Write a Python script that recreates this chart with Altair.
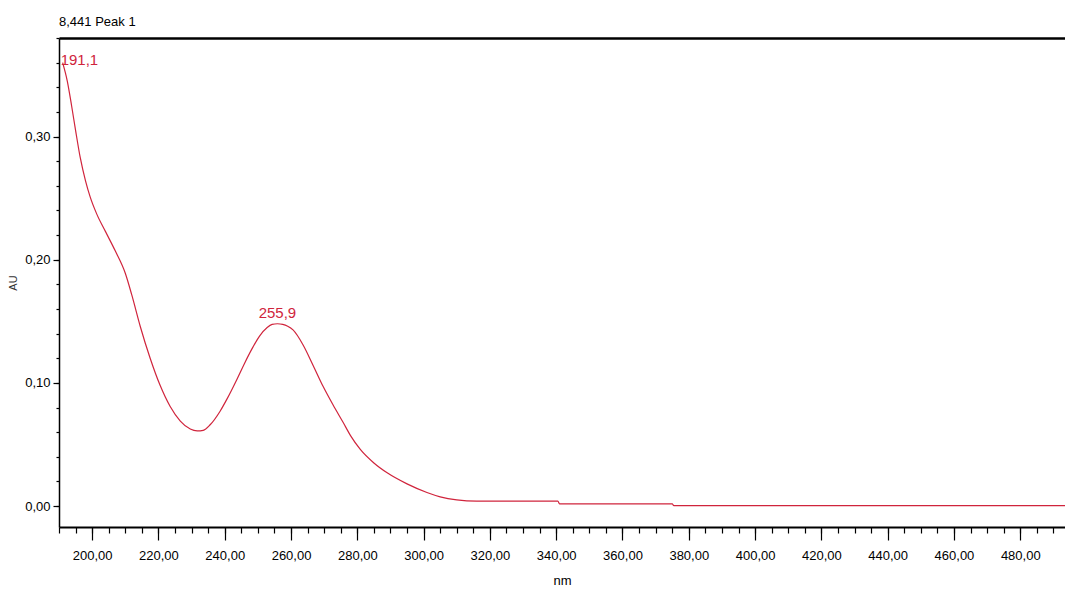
import altair as alt
import pandas as pd

# spectrum (wavelength nm, absorbance AU)
nm = [191.1, 192.5, 193.8, 195.0, 196.4, 198.0, 199.4, 201.4, 204.0, 207.0,
      210.0, 212.0, 214.5, 217.5, 220.5, 223.5, 226.6, 229.6, 231.7, 233.5,
      235.6, 238.6, 240.7, 243.7, 246.0, 248.5, 250.5, 252.8, 254.3, 255.9,
      257.5, 259.0, 260.6, 263.6, 266.7, 269.7, 272.7, 275.7, 278.0, 280.9,
      285.0, 289.0, 295.0, 301.0, 305.0, 310.0, 316.0, 340.5, 341.0, 375.0,
      375.5, 493.5]
au = [0.360, 0.345, 0.325, 0.305, 0.283, 0.264, 0.251, 0.237, 0.223, 0.207,
      0.189, 0.171, 0.146, 0.120, 0.098, 0.081, 0.069, 0.0625, 0.061, 0.0615,
      0.066, 0.077, 0.087, 0.103, 0.116, 0.129, 0.138, 0.145, 0.1475, 0.148,
      0.1475, 0.146, 0.143, 0.131, 0.114, 0.097, 0.082, 0.068, 0.057, 0.046,
      0.035, 0.027, 0.018, 0.011, 0.0075, 0.005, 0.004, 0.004, 0.0017, 0.0017,
      0.0003, 0.0003]

ann_nm = [191.1, 255.9]
ann_au = [0.360, 0.148]
ann_label = ["191,1", "255,9"]

x_major = list(range(200, 481, 20))
x_minor = list(range(190, 494, 5))
y_major = [0.0, 0.1, 0.2, 0.3]
y_minor = [round(i * 0.02, 2) for i in range(0, 20)]

X_DOMAIN = [190, 493.5]
Y_DOMAIN = [-0.017, 0.38]
FONT = "Liberation Sans, Arial, sans-serif"
RED = "#d0243c"

spec = pd.DataFrame({"nm": nm, "au": au})
ann = pd.DataFrame({"nm": ann_nm, "au": ann_au, "label": ann_label})

xs = alt.Scale(domain=X_DOMAIN, nice=False, zero=False)
ys = alt.Scale(domain=Y_DOMAIN, nice=False, zero=False)
lab = "replace(format(datum.value, '.2f'), '.', ',')"

line = alt.Chart(spec).mark_line(color=RED, strokeWidth=1.2, interpolate="monotone").encode(
    x=alt.X("nm:Q", scale=xs, axis=alt.Axis(
        orient="bottom", values=x_major, labelExpr=lab, tickSize=13, tickWidth=1.2,
        tickColor="black", domainColor="black", domainWidth=2, labelPadding=9,
        labelFont=FONT, labelFontSize=13, labelColor="black", grid=False,
        title="nm", titleFont=FONT, titleFontSize=13, titleFontWeight="normal",
        titleColor="black", titlePadding=12)),
    y=alt.Y("au:Q", scale=ys, axis=alt.Axis(
        orient="left", values=y_major, labelExpr=lab, tickSize=6, tickWidth=1.2,
        tickColor="black", domainColor="black", domainWidth=1.5, labelPadding=3,
        labelFont=FONT, labelFontSize=13, labelColor="black", grid=False,
        title="AU", titleFont=FONT, titleFontSize=11, titleFontWeight="normal",
        titleColor="#333333", titlePadding=6)),
)

t1 = alt.Chart(ann).transform_filter(alt.datum.label == "191,1").mark_text(
    color=RED, font=FONT, fontSize=15, align="left", baseline="alphabetic", dx=-2, dy=2
).encode(
    x=alt.X("nm:Q", scale=xs, axis=alt.Axis(
        orient="bottom", values=x_minor, tickSize=6, tickWidth=1.2, tickColor="black",
        labels=False, domain=False, grid=False, title=None)),
    y=alt.Y("au:Q", scale=ys, axis=alt.Axis(
        orient="left", values=y_minor, tickSize=3, tickWidth=1.2, tickColor="black",
        labels=False, domain=False, grid=False, title=None)),
    text="label:N",
)

t2 = alt.Chart(ann).transform_filter(alt.datum.label == "255,9").mark_text(
    color=RED, font=FONT, fontSize=15, align="center", baseline="alphabetic", dy=-6
).encode(
    x=alt.X("nm:Q", scale=xs, axis=alt.Axis(
        orient="top", ticks=False, labels=False, domain=True, domainColor="black",
        domainWidth=2.5, grid=False, title=None)),
    y=alt.Y("au:Q", scale=ys, axis=None),
    text="label:N",
)

chart = alt.layer(line, t1, t2).resolve_axis(x="independent", y="independent").properties(
    width=1006, height=489,
    title=alt.TitleParams("8,441 Peak 1", anchor="start", frame="group", font=FONT,
                          fontSize=13, fontWeight="normal", color="black", offset=8),
    autosize=alt.AutoSizeParams(type="none"),
    padding={"left": 51, "top": 30, "right": 0, "bottom": 62},
).configure_view(stroke=None).configure(background="white")

chart.save("out.html", embed_options={"renderer": "svg", "actions": False})
